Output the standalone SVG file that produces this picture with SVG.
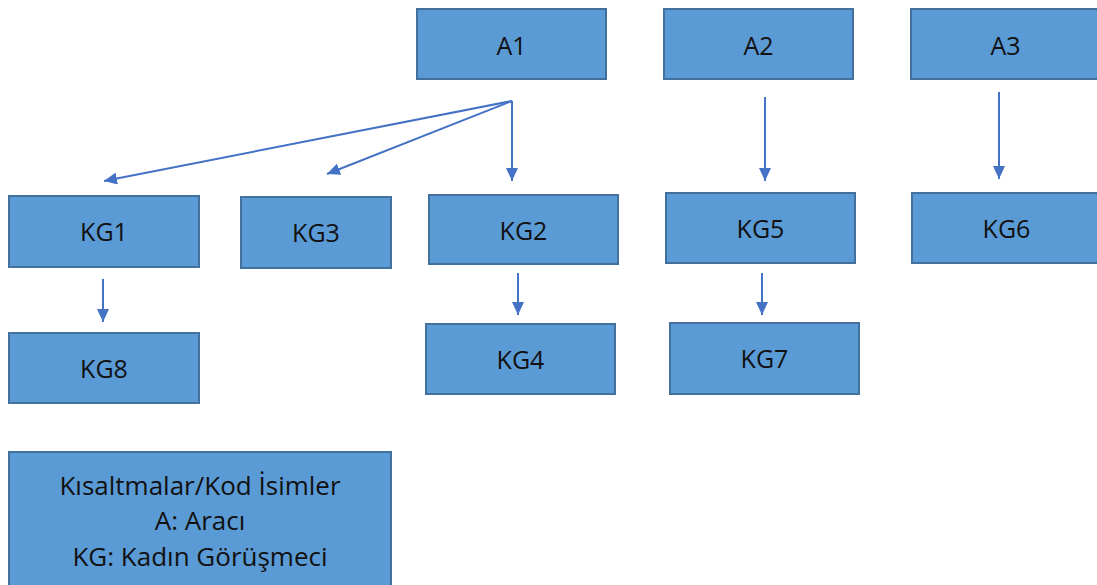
<svg xmlns="http://www.w3.org/2000/svg" width="1097" height="585" viewBox="0 0 1097 585">
<style>
.box{fill:#5b9bd5;stroke:#41719c;stroke-width:2}
.lbl{font-family:"Open Sans","Liberation Sans",sans-serif;font-size:25px;fill:#111;text-anchor:middle}
.leg{font-family:"Open Sans","Liberation Sans",sans-serif;font-size:26px;fill:#111;text-anchor:middle}
.con{stroke:#4472c4;stroke-width:2;fill:none;marker-end:url(#ah)}
</style>
<defs>
<marker id="ah" markerUnits="userSpaceOnUse" markerWidth="14" markerHeight="12" refX="13" refY="6" orient="auto">
<path d="M0,0 L13,6 L0,12 Z" fill="#4472c4"/>
</marker>
</defs>
<rect width="1097" height="585" fill="#fff"/>
<g id="connectors">
<line class="con" x1="512" y1="101" x2="104" y2="181"/>
<line class="con" x1="512" y1="101" x2="327" y2="174"/>
<line class="con" x1="512" y1="101" x2="512" y2="181"/>
<line class="con" x1="765" y1="97" x2="765" y2="181"/>
<line class="con" x1="999" y1="92" x2="999" y2="179"/>
<line class="con" x1="103" y1="279" x2="103" y2="322"/>
<line class="con" x1="518" y1="273" x2="518" y2="315"/>
<line class="con" x1="762" y1="273" x2="762" y2="315"/>
</g>
<g id="A1"><rect class="box" x="417" y="9" width="189" height="70"/><text class="lbl" x="511.5" y="55">A1</text></g>
<g id="A2"><rect class="box" x="664" y="9" width="189" height="70"/><text class="lbl" x="758.5" y="55">A2</text></g>
<g id="A3"><rect class="box" x="911" y="9" width="189" height="70"/><text class="lbl" x="1005.5" y="55">A3</text></g>
<g id="KG1"><rect class="box" x="9" y="196" width="190" height="71"/><text class="lbl" x="104" y="241">KG1</text></g>
<g id="KG3"><rect class="box" x="241" y="197" width="150" height="71"/><text class="lbl" x="316" y="242">KG3</text></g>
<g id="KG2"><rect class="box" x="429" y="195" width="189" height="69"/><text class="lbl" x="523.5" y="240">KG2</text></g>
<g id="KG5"><rect class="box" x="666" y="193" width="189" height="70"/><text class="lbl" x="760.5" y="238">KG5</text></g>
<g id="KG6"><rect class="box" x="912" y="193" width="189" height="70"/><text class="lbl" x="1006.5" y="238">KG6</text></g>
<g id="KG8"><rect class="box" x="9" y="333" width="190" height="70"/><text class="lbl" x="104" y="378">KG8</text></g>
<g id="KG4"><rect class="box" x="426" y="324" width="189" height="70"/><text class="lbl" x="520.5" y="369">KG4</text></g>
<g id="KG7"><rect class="box" x="670" y="323" width="189" height="71"/><text class="lbl" x="764.5" y="368">KG7</text></g>
<g id="legend"><rect class="box" x="9" y="452" width="382" height="140"/>
<text class="leg" x="200" y="495">Kısaltmalar/Kod İsimler</text>
<text class="leg" x="200" y="530">A: Aracı</text>
<text class="leg" x="200" y="566">KG: Kadın Görüşmeci</text>
</g>
</svg>
